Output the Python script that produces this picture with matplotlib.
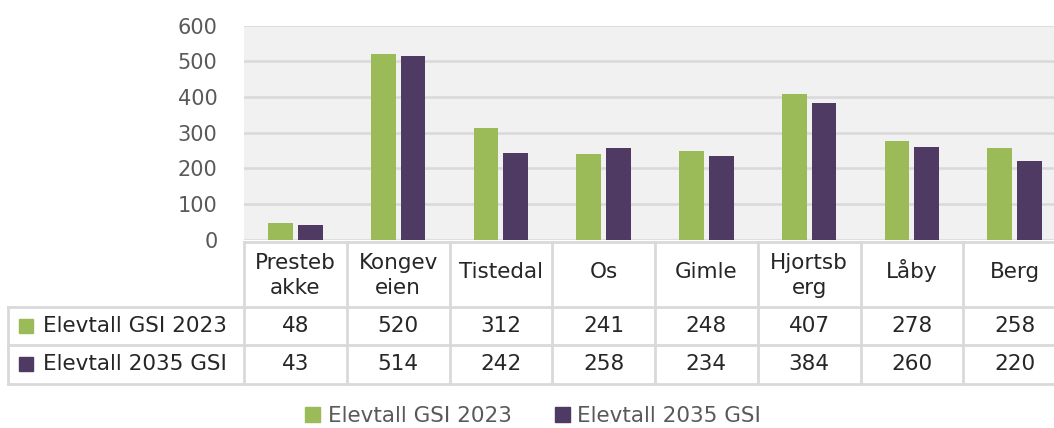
import matplotlib
matplotlib.use("Agg")
import matplotlib.pyplot as plt
import matplotlib.transforms as mtransforms
from matplotlib.patches import Patch, Rectangle

# ---- data ----
header_labels = ["Presteb\nakke", "Kongev\neien", "Tistedal", "Os", "Gimle",
                 "Hjortsb\nerg", "Låby", "Berg"]
series_names = ["Elevtall GSI 2023", "Elevtall 2035 GSI"]
values_2023 = [48, 520, 312, 241, 248, 407, 278, 258]
values_2035 = [43, 514, 242, 258, 234, 384, 260, 220]
y_ticks = [0, 100, 200, 300, 400, 500, 600]

GREEN = "#9BBB59"
PURPLE = "#4E3A62"
GRID = "#D9D9D9"
TICK = "#595959"
TXT = "#262626"
FONT = "DejaVu Sans"

W, H = 1054, 428
fig = plt.figure(figsize=(W / 100, H / 100), dpi=100)
plt.rcParams['font.family'] = [FONT]

# plot area in pixels (top-origin)
px_left, px_right, px_top, px_bottom = 244, 1066, 25.5, 240
ax = fig.add_axes([px_left / W, 1 - px_bottom / H,
                   (px_right - px_left) / W, (px_bottom - px_top) / H])
ax.set_facecolor("#F1F1F1")
n = len(header_labels)
xs = list(range(n))
bw = 0.24
ax.bar([x - 0.145 for x in xs], values_2023, width=bw, color=GREEN, zorder=3)
ax.bar([x + 0.145 for x in xs], values_2035, width=bw, color=PURPLE, zorder=3)
ax.set_xlim(-0.5, n - 0.5)
ax.set_ylim(0, 600)
ax.set_yticks(y_ticks)
fs = 15.5
ax.set_yticklabels([str(v) for v in y_ticks], fontsize=15, color=TICK)
ax.set_xticks([])
ax.tick_params(axis='y', length=0, pad=19)
ax.yaxis.grid(True, color=GRID, lw=1.8, zorder=1)
for s in ax.spines.values():
    s.set_visible(False)

# pixel transform (top-origin pixel coords -> display)
pix = mtransforms.Affine2D().scale(1 / W, -1 / H).translate(0, 1) + fig.transFigure
colx = mtransforms.blended_transform_factory(ax.transData, pix)

# table geometry (pixels)
y_head_top, y_row1, y_row2, y_bot = 242, 307, 345, 384
lbl_left = 8
lc = dict(color=GRID, lw=2, clip_on=False)

fig.add_artist(plt.Line2D([px_left, W + 20], [y_head_top] * 2, transform=pix, **lc))
for yy in (y_row1, y_row2, y_bot):
    fig.add_artist(plt.Line2D([lbl_left, W + 20], [yy] * 2, transform=pix, **lc))
fig.add_artist(plt.Line2D([lbl_left] * 2, [y_row1, y_bot], transform=pix, **lc))
for k in range(n + 1):
    xb = k - 0.5
    fig.add_artist(plt.Line2D([xb, xb], [y_head_top, y_bot], transform=colx, **lc))

for x, lab in zip(xs, header_labels):
    if "\n" in lab:
        fig.text(x, (y_head_top + y_row1) / 2 + 1, lab, transform=colx, ha='center',
                 va='center', fontsize=fs, color=TXT, linespacing=1.3)
    else:
        fig.text(x, 278, lab, transform=colx, ha='center',
                 va='baseline', fontsize=fs, color=TXT)
for x, v1, v2 in zip(xs, values_2023, values_2035):
    fig.text(x, (y_row1 + y_row2) / 2, str(v1), transform=colx, ha='center',
             va='center', fontsize=fs, color=TXT)
    fig.text(x, (y_row2 + y_bot) / 2, str(v2), transform=colx, ha='center',
             va='center', fontsize=fs, color=TXT)
for (y0, y1), name, col in zip([(y_row1, y_row2), (y_row2, y_bot)], series_names,
                               [GREEN, PURPLE]):
    yc = (y0 + y1) / 2
    fig.add_artist(Rectangle((19, yc - 7), 14, 14, transform=pix, color=col))
    fig.text(43, yc, name, transform=pix, ha='left', va='center',
             fontsize=fs, color=TXT)

handles = [Patch(color=GREEN), Patch(color=PURPLE)]
fig.legend(handles, series_names, loc='center', bbox_to_anchor=(533 / W, 1 - 416 / H),
           ncol=2, frameon=False, fontsize=fs, labelcolor=TICK,
           handlelength=0.7, handleheight=0.7, handletextpad=0.35,
           columnspacing=2.0)

fig.savefig("out.png", dpi=100)
